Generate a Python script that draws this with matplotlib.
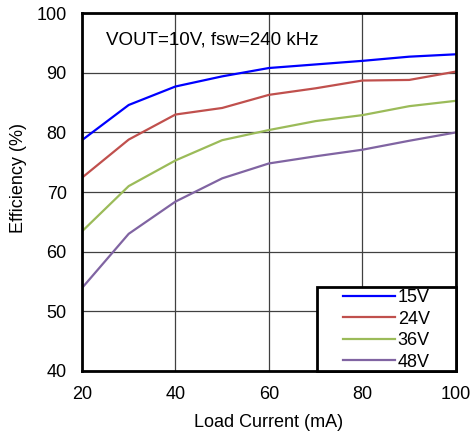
import matplotlib.pyplot as plt
from matplotlib.patches import Rectangle

plt.rcParams['font.family'] = ['Liberation Sans', 'DejaVu Sans']

load_ma = [20, 30, 40, 50, 60, 70, 80, 90, 100]
eff_15v = [78.7, 84.6, 87.7, 89.4, 90.8, 91.4, 92.0, 92.7, 93.1]
eff_24v = [72.4, 78.8, 83.0, 84.1, 86.3, 87.4, 88.7, 88.8, 90.2]
eff_36v = [63.4, 71.0, 75.3, 78.7, 80.4, 81.9, 82.9, 84.4, 85.3]
eff_48v = [53.9, 63.0, 68.4, 72.3, 74.8, 76.0, 77.1, 78.6, 80.0]

labels = ['15V', '24V', '36V', '48V']
colors = ['#0000FF', '#C0504D', '#9BBB59', '#8064A2']

fig = plt.figure(figsize=(4.71, 4.38), dpi=100)
ax = fig.add_axes([0.174, 0.153, 0.794, 0.817])

for y, lab, c in zip([eff_15v, eff_24v, eff_36v, eff_48v], labels, colors):
    ax.plot(load_ma, y, color=c, lw=1.6, label=lab)

ax.set_xlim(20, 100)
ax.set_ylim(40, 100)
ax.set_xticks(range(20, 101, 20))
ax.set_yticks(range(40, 101, 10))
ax.grid(True, color='#404040', lw=0.9)
ax.set_axisbelow(True)
ax.tick_params(labelsize=13, length=0)
ax.tick_params(axis='x', pad=11)
ax.tick_params(axis='y', pad=11)
for s in ax.spines.values():
    s.set_linewidth(2)

ax.set_xlabel('Load Current (mA)', fontsize=13)
ax.set_ylabel('Efficiency (%)', fontsize=13)
ax.xaxis.set_label_coords(0.5, -0.145)
ax.yaxis.set_label_coords(-0.171, 0.54)
ax.xaxis.label.set_va('center')
ax.yaxis.label.set_va('center')
ax.text(0.063, 0.925, 'VOUT=10V, fsw=240 kHz', transform=ax.transAxes,
        fontsize=13.5, va='center')

# legend box with its own frame
ax.add_patch(Rectangle((0.628, 0), 0.372, 0.235, transform=ax.transAxes,
                       facecolor='white', edgecolor='black', lw=2, zorder=4,
                       clip_on=False))
leg = ax.legend(loc='center', bbox_to_anchor=(0.814, 0.115), fontsize=13,
                frameon=False, handlelength=2.9, handletextpad=0.15,
                labelspacing=0.25, borderpad=0, borderaxespad=0)
leg.set_zorder(5)

fig.savefig('out.png', dpi=100)
